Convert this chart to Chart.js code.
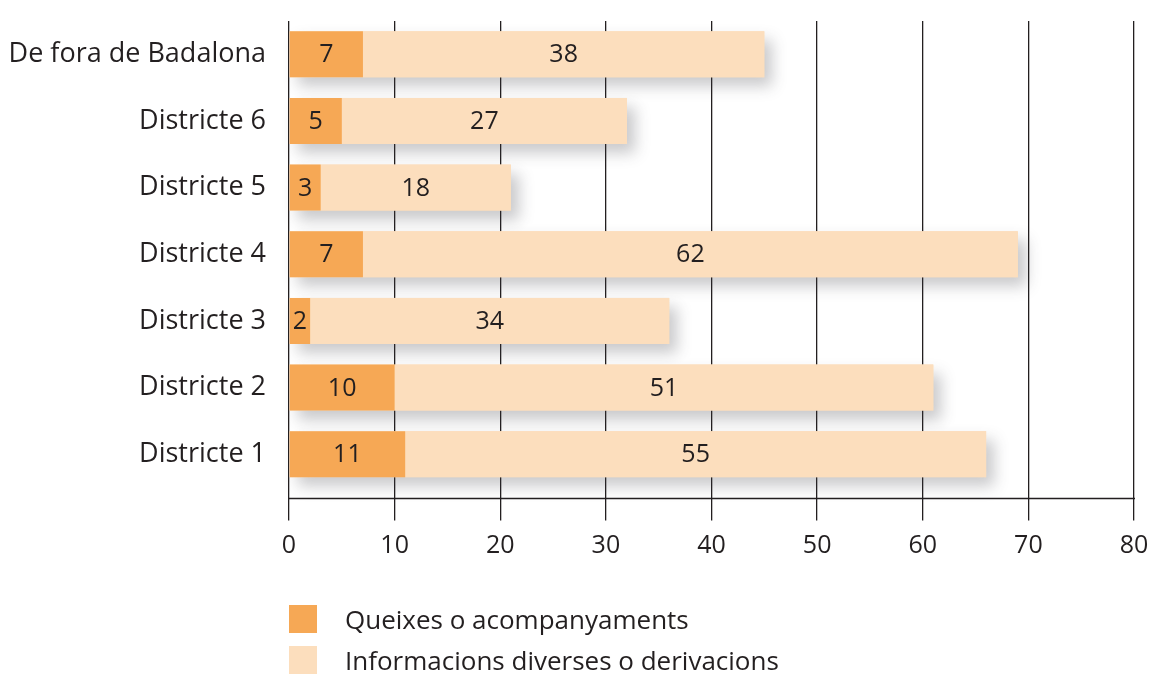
<!DOCTYPE html>
<html>
<head>
<meta charset="utf-8">
<script src="https://cdn.jsdelivr.net/npm/chart.js@4"></script>
<style>
  html, body { margin: 0; padding: 0; background: #fff; }
  #wrap { position: relative; width: 1153px; height: 677px; }
  #legend { position: absolute; left: 289px; top: 598px; font-family: 'Open Sans', sans-serif; font-size: 26px; color: #231f20; }
  .item { display: flex; align-items: center; height: 41px; }
  .box { width: 28px; height: 28px; margin-right: 28px; }
</style>
</head>
<body>
<div id="wrap">
  <canvas id="districtChart" width="1153" height="677"></canvas>
  <div id="legend"></div>
</div>
<script>
const districtLabels = ['De fora de Badalona', 'Districte 6', 'Districte 5', 'Districte 4', 'Districte 3', 'Districte 2', 'Districte 1'];
const complaintsData = [7, 5, 3, 7, 2, 10, 11];
const infoData       = [38, 27, 18, 62, 34, 51, 55];
const seriesNames    = ['Queixes o acompanyaments', 'Informacions diverses o derivacions'];
const seriesColors   = ['#f6a855', '#fcdebd'];

const textColor = '#231f20';
const gridColor = '#231f20';

// grey drop shadow behind each full stacked bar
const barShadow = {
  id: 'barShadow',
  beforeDatasetsDraw(chart) {
    const first = chart.getDatasetMeta(0).data;
    const last = chart.getDatasetMeta(1).data;
    const ctx = chart.ctx;
    ctx.save();
    ctx.shadowColor = 'rgba(60,60,70,0.28)';
    ctx.shadowBlur = 14;
    ctx.shadowOffsetX = 8;
    ctx.shadowOffsetY = 9;
    ctx.fillStyle = seriesColors[1];
    first.forEach((el, i) => {
      const end = last[i];
      ctx.fillRect(el.base, el.y - el.height / 2, end.x - el.base, el.height);
    });
    ctx.restore();
  }
};

// value labels centred in each segment
const segmentLabels = {
  id: 'segmentLabels',
  afterDatasetsDraw(chart) {
    const ctx = chart.ctx;
    ctx.save();
    ctx.font = '25px "Open Sans", sans-serif';
    ctx.fillStyle = textColor;
    ctx.textAlign = 'center';
    ctx.textBaseline = 'middle';
    chart.data.datasets.forEach((ds, di) => {
      chart.getDatasetMeta(di).data.forEach((el, i) => {
        const p = el.getCenterPoint();
        ctx.fillText(ds.data[i], p.x, p.y + 1);
      });
    });
    ctx.restore();
  }
};

// horizontal axis line a little below the last bar
const axisLine = {
  id: 'axisLine',
  afterDraw(chart) {
    const { ctx, chartArea } = chart;
    const y = chartArea.bottom + 11;
    ctx.save();
    ctx.strokeStyle = gridColor;
    ctx.lineWidth = 1.3;
    ctx.beginPath();
    ctx.moveTo(chartArea.left - 1, y);
    ctx.lineTo(chartArea.right + 1, y);
    ctx.stroke();
    ctx.restore();
  }
};

new Chart(document.getElementById('districtChart'), {
  type: 'bar',
  data: {
    labels: districtLabels,
    datasets: [
      { label: seriesNames[0], data: complaintsData, backgroundColor: seriesColors[0] },
      { label: seriesNames[1], data: infoData, backgroundColor: seriesColors[1] }
    ]
  },
  options: {
    indexAxis: 'y',
    responsive: false,
    animation: false,
    categoryPercentage: 1,
    barPercentage: 0.69,
    layout: { padding: { top: 21, right: 19, bottom: 0, left: 0 } },
    scales: {
      x: {
        stacked: true,
        min: 0,
        max: 80,
        ticks: { stepSize: 10, color: textColor, padding: 10, font: { family: 'Open Sans', size: 25 } },
        grid: { color: gridColor, lineWidth: 1.3, tickLength: 33, tickColor: gridColor },
        border: { display: false },
        afterFit(scale) { scale.height = 189.5; scale.paddingLeft = 0; scale.paddingRight = 0; }
      },
      y: {
        stacked: true,
        ticks: { color: textColor, padding: 15, font: { family: 'Open Sans', size: 27 } },
        grid: { display: false },
        border: { display: false },
        afterFit(scale) { scale.width = 289; scale.paddingTop = 0; scale.paddingBottom = 0; }
      }
    },
    plugins: {
      legend: { display: false },
      tooltip: { enabled: false }
    }
  },
  plugins: [barShadow, segmentLabels, axisLine]
});

const legendEl = document.getElementById('legend');
seriesNames.forEach((name, i) => {
  const item = document.createElement('div');
  item.className = 'item';
  item.innerHTML = '<span class="box" style="background:' + seriesColors[i] + '"></span><span>' + name + '</span>';
  legendEl.appendChild(item);
});
</script>
</body>
</html>
